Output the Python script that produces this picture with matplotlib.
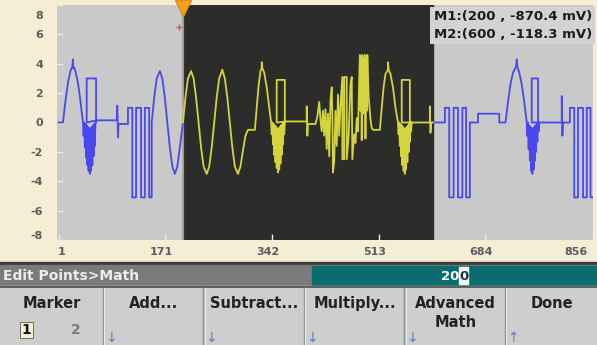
import matplotlib.pyplot as plt
import matplotlib.transforms as mtransforms
from matplotlib.patches import Rectangle

plt.rcParams['font.family'] = ['DejaVu Sans']

# markers / readouts shown on the screen
m1_pos, m2_pos = 200, 600
m1_mv, m2_mv = -870.4, -118.3
x_ticks = [1, 171, 342, 513, 684, 856]
y_ticks = [-8, -6, -4, -2, 0, 2, 4, 6, 8]

# waveform points (sample index, volts)
# left part, outside the markers (blue)
left_x = [1, 8, 12, 16, 20, 23, 24, 24, 25, 28, 32, 36, 40,
          41, 42, 43, 44, 45, 46, 47, 48, 49, 50, 51, 52, 53, 54, 55, 56, 57, 58, 59, 60,
          61, 61, 46, 46, 62, 94, 95, 96, 97, 112,
          112, 119, 119, 125, 125, 133, 133, 139, 139, 146, 146, 150, 150,
          154, 158, 163, 167, 171, 175, 179, 183, 187, 191, 195, 200]
left_v = [0, 0, 1.45, 2.7, 3.5, 3.8, 4.3, 3.7, 3.8, 3.5, 2.7, 1.45, 0,
          -0.9, 0, -1.7, -0.1, -2.4, -0.2, -2.9, -0.3, -3.3, -0.4, -3.5, -0.4, -3.3, -0.3, -2.9, -0.2, -2.3, -0.1, -1.6, 0,
          0, 3.0, 3.0, 0, 0.15, 0.15, 1.15, -1.0, -0.1, -0.1,
          1.0, 1.0, -5.1, -5.1, 1.0, 1.0, -5.1, -5.1, 1.0, 1.0, -5.1, -5.1, 0,
          1.7, 3.0, 3.5, 3.0, 1.7, 0, -1.7, -3.0, -3.5, -3.0, -1.7, 0]

# between M1 and M2 (yellow)
mid_x = [200, 204, 208, 213, 217, 221, 225, 229, 233, 238, 242, 246, 250, 254, 258, 263, 267, 271,
         275, 279, 283, 288, 292, 296, 300, 304, 315,
         318, 321, 324, 326, 326, 327, 330, 334, 338, 341,
         342, 343, 344, 345, 346, 347, 348, 349, 350, 351, 352, 353, 354, 355, 356, 357, 358, 359,
         360, 361, 362, 363,
         363, 350, 350, 365, 392, 398, 398, 399, 400, 412,
         415, 418, 420, 422, 424, 426, 428, 430, 432, 434, 436, 438, 439, 440, 442, 444, 446, 448,
         450, 452, 455, 455, 458, 458, 462, 462, 465, 468, 470, 471, 474, 476, 478, 480, 483, 484,
         485, 486, 487, 488, 489, 490, 491, 492, 493, 494, 495, 497, 500, 502, 504, 515,
         518, 521, 524, 528, 528, 529, 532, 536, 540, 544,
         545, 546, 547, 548, 549, 550, 551, 552, 553, 554, 555, 556, 557, 558, 559, 560, 561, 562,
         563, 564, 565, 566,
         563, 563, 550, 550, 568, 595, 595, 596, 597, 600]
mid_v = [0, 1.7, 3.0, 3.5, 3.0, 1.7, 0, -1.7, -3.0, -3.5, -3.0, -1.7, 0, 1.7, 3.0, 3.6, 3.0, 1.7,
         0, -1.7, -3.0, -3.5, -3.0, -1.9, -0.9, -0.5, -0.5,
         1.0, 2.5, 3.5, 3.7, 4.1, 3.7, 3.4, 2.4, 1.0, 0,
         -0.8, 0, -1.5, -0.1, -2.2, -0.2, -2.7, -0.3, -3.1, -0.4, -3.4, -0.4, -3.2, -0.3, -2.8, -0.2,
         -2.2, -0.1, -1.5, 0, -0.8, 0,
         2.9, 2.9, 0, 0.07, 0.07, 0.07, 1.1, -0.9, -0.1, -0.1,
         0.4, 1.4, 0.2, -0.6, 0.8, -0.9, 0.9, -1.8, 0.6, -2.3, 1.5, 2.4, 0.5, -3.4, -2.6, 0.8, -1.6, 1.9,
         -0.9, 1.2, 3.1, -2.5, -2.5, 3.1, 3.1, -2.5, -1.0, 2.6, 3.1, -2.5, -0.8, -1.4, 0.3, -0.6, 4.6, 0.8,
         4.5, -1.2, 4.6, 0.8, 4.4, 0.6, 4.6, -1.1, 4.5, 0.8, 4.6, 1.8, 0.2, -0.35, -0.5, -0.5,
         1.0, 2.4, 3.3, 3.6, 4.1, 3.6, 3.3, 2.4, 1.0, 0,
         -0.8, 0, -1.6, -0.1, -2.3, -0.2, -2.9, -0.3, -3.3, -0.4, -3.5, -0.4, -3.2, -0.3, -2.7, -0.2,
         -2.0, -0.1, -1.3, 0, -0.6, 0,
         0, 2.9, 2.9, 0, 0, 0, 1.1, -0.7, 0, 0]

# right part, after M2 (blue)
right_x = [600, 619, 619, 626, 626, 633, 633, 640, 640, 647, 647, 653, 653, 659, 659,
           672, 672, 706, 706, 716,
           720, 724, 728, 733, 734, 735, 738, 742, 746, 750,
           751, 752, 753, 754, 755, 756, 757, 758, 759, 760, 761, 762, 763, 764, 765, 766, 767, 768,
           769, 770,
           768, 768, 758, 758, 771, 806, 806, 807, 808, 819,
           819, 826, 826, 832, 832, 840, 840, 846, 846, 852, 852, 856]
right_v = [0, 0, 1.0, 1.0, -5.1, -5.1, 1.0, 1.0, -5.1, -5.1, 1.0, 1.0, -5.1, -5.1, 0,
           0, 0.6, 0.6, 0, 0,
           1.4, 2.6, 3.4, 3.8, 4.3, 3.8, 3.4, 2.6, 1.4, 0,
           -0.9, 0, -1.8, -0.2, -2.6, -0.3, -3.3, -0.4, -3.5, -0.4, -3.2, -0.3, -2.6, -0.2, -2.0, -0.1,
           -1.3, 0, -0.6, 0,
           0, 3.0, 3.0, 0, 0, 0, 1.8, -0.9, 0, 0,
           1.0, 1.0, -5.1, -5.1, 1.0, 1.0, -5.1, -5.1, 1.0, 1.0, -5.1, -5.1]

# soft keys and edit line
keys = ['Marker', 'Add...', 'Subtract...', 'Multiply...', 'Advanced\nMath', 'Done']
key_arrow = ['', '↓', '↓', '↓', '↓', '↑']
edit_path = 'Edit Points>Math'
edit_value = '200'

W, H = 597, 345
fig = plt.figure(figsize=(W / 100, H / 100), dpi=100)
fig.patch.set_facecolor('#f5eed5')

# screen chrome, pixel coordinates
ui = fig.add_axes([0, 0, 1, 1], zorder=0)
ui.set_xlim(0, W)
ui.set_ylim(H, 0)
ui.axis('off')
ui.add_patch(Rectangle((0, 262), W, 2.5, color='#3a3a3a'))
ui.add_patch(Rectangle((0, 264.5), W, 21.5, color='#7b7b7b'))
ui.add_patch(Rectangle((312, 265.5), W - 312, 19.5, color='#0b6c6d'))
ui.add_patch(Rectangle((0, 286), W, H - 286, color='#cecece'))
ui.plot([0, W], [286.5, 286.5], color='#4c4c4c', lw=1.2)
ui.text(3, 276, edit_path, fontsize=10, fontweight='bold', color='#ededed', va='center')
# value with cursor on last digit
ui.add_patch(Rectangle((459, 266.5), 9, 17.5, color='#f4f4f4'))
ui.text(459, 276, edit_value[:-1], fontsize=9.5, fontweight='bold', color='white', ha='right', va='center')
ui.text(463.5, 276, edit_value[-1], fontsize=9.5, fontweight='bold', color='#1a3a3a', ha='center', va='center')

seps = [102.5, 203, 303.5, 404, 504.5]
for s in seps:
    ui.plot([s, s], [288, H], color='#8e8e8e', lw=1)
    ui.plot([s + 1.5, s + 1.5], [288, H], color='#ececec', lw=0.8)
edges = [0] + seps + [W]
for i, k in enumerate(keys):
    cx = (edges[i] + edges[i + 1]) / 2 + 1
    ui.text(cx, 296, k, fontsize=10.5, fontweight='bold', color='#222222', ha='center', va='top',
            linespacing=1.3)
    if key_arrow[i]:
        ui.text(edges[i] + 8, 345, key_arrow[i], fontsize=10, color='#5a7ec6', ha='center', va='bottom')
# marker selector 1 / 2
ui.add_patch(Rectangle((20, 322), 13, 16, fc='#f6efd2', ec='#5a5a5a', lw=0.6))
ui.text(26.5, 330, '1', fontsize=10, fontweight='bold', color='#111111', ha='center', va='center')
ui.text(76, 330, '2', fontsize=10, fontweight='bold', color='#7a7a7a', ha='center', va='center')

# waveform plot
ax = fig.add_axes([57 / W, 1 - 240 / H, (593 - 57) / W, (240 - 5) / H], zorder=1)
ax.set_facecolor('#c9c9c9')
ax.axvspan(m1_pos, m2_pos, color='#2c2c2a', zorder=0)
ax.axvline(m1_pos, color='#b39a50', lw=0.8, zorder=1)
ax.plot(left_x, left_v, color='#4848ee', lw=1.3, zorder=2)
ax.plot(right_x, right_v, color='#4848ee', lw=1.3, zorder=2)
ax.plot(mid_x, mid_v, color='#d4d43c', lw=1.3, zorder=2)
ax.set_xlim(-1.5, 856)
ax.set_ylim(-8, 8)
for sp in ax.spines.values():
    sp.set_visible(False)

ax.set_yticks(y_ticks, [str(v) for v in y_ticks], fontweight='bold')
ax.set_xticks(x_ticks, [str(v) for v in x_ticks], fontweight='bold')
ax.tick_params(axis='y', direction='in', length=4, width=1, color='#ececec', pad=10,
               labelsize=8, labelcolor='#5c5c5c')
ax.tick_params(axis='x', direction='in', length=4, width=1, color='#ececec', pad=5,
               labelsize=8, labelcolor='#5c5c5c')
for t, v in zip(ax.yaxis.get_major_ticks(), y_ticks):
    dy = {8: -10, -8: 5}.get(v, 0)
    t.label1.set_transform(t.label1.get_transform() +
                           mtransforms.ScaledTranslation(0, dy / 100, fig.dpi_scale_trans))
for t, v in zip(ax.xaxis.get_major_ticks(), x_ticks):
    dx = {x_ticks[0]: 3, x_ticks[-1]: -17}.get(v, -4)
    t.label1.set_transform(t.label1.get_transform() +
                           mtransforms.ScaledTranslation(dx / 100, 0, fig.dpi_scale_trans))

# marker flag and cross
ax.plot([m1_pos], [0.989], marker='v', ms=11, color='#f4a21c', mec='#e08a10',
        transform=ax.get_xaxis_transform(), clip_on=False, zorder=6)
ax.plot([m1_pos - 6], [6.5], marker='+', ms=5, mew=1, color='#d04a78', zorder=6)

ax.text(0.998, 0.978,
        'M1:(%d , %.1f mV)\nM2:(%d , %.1f mV)' % (m1_pos, m1_mv, m2_pos, m2_mv),
        transform=ax.transAxes, ha='right', va='top', fontsize=9.5, fontweight='bold',
        color='#1c1c1c', linespacing=1.45,
        bbox=dict(boxstyle='square,pad=0.25', fc='#d3d3d3', ec='none'), zorder=7)

fig.savefig('out.png', dpi=100, facecolor=fig.get_facecolor())
